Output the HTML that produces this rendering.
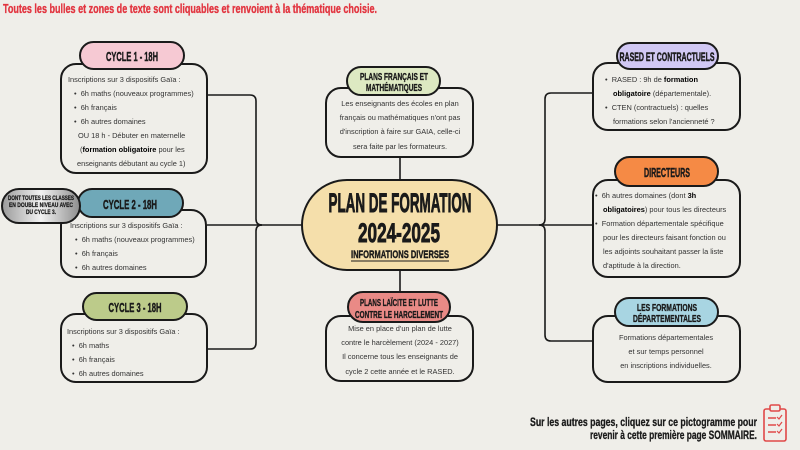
<!DOCTYPE html>
<html><head><meta charset="utf-8"><style>
html,body{margin:0;padding:0;background:#efeee9;}
svg{display:block;}
.h{font-family:"Liberation Sans Narrow","Liberation Sans",sans-serif;font-weight:bold;fill:#1a1a1a;stroke:#1a1a1a;stroke-width:0.45;}
.b{font-family:"Liberation Sans",sans-serif;font-size:7.4px;fill:#333;}
.bb{font-weight:bold;fill:#000;}
</style></head><body>
<svg width="800" height="450" viewBox="0 0 800 450" xmlns="http://www.w3.org/2000/svg">
<rect width="800" height="450" fill="#efeee9"/>
<text x="3" y="13" class="h" font-size="13" style="fill:#e2343f;stroke:#e2343f;stroke-width:0.35" textLength="374" lengthAdjust="spacingAndGlyphs">Toutes les bulles et zones de texte sont cliquables et renvoient à la thématique choisie.</text>

<g fill="none" stroke="#1a1a1a" stroke-width="1.6">
<path d="M207 95 H250 Q256 95 256 101 V219 Q256 225 262 225 H303"/>
<path d="M207 225 H262"/>
<path d="M207 349 H250 Q256 349 256 343 V231 Q256 225 262 225"/>
<path d="M593 93 H551 Q545 93 545 99 V219 Q545 225 539 225 H497"/>
<path d="M593 225 H539"/>
<path d="M593 341 H551 Q545 341 545 335 V231 Q545 225 539 225"/>
<path d="M400 157 V180"/>
<path d="M400 270 V292"/>
</g>

<g stroke="#1a1a1a" stroke-width="2" fill="#efeee9">
<rect x="61" y="64" width="146" height="109" rx="15"/>
<rect x="61" y="210" width="145" height="67" rx="15"/>
<rect x="61" y="314" width="146" height="68" rx="15"/>
<rect x="326" y="88" width="147" height="69" rx="15"/>
<rect x="326" y="316" width="147" height="65" rx="15"/>
<rect x="593" y="63" width="147" height="67" rx="15"/>
<rect x="593" y="180" width="147" height="97" rx="15"/>
<rect x="593" y="316" width="147" height="66" rx="15"/>
<rect x="302" y="180" width="195" height="90" rx="45" fill="#f5dfab"/>
<rect x="80" y="42" width="104" height="27" rx="13.5" fill="#f6c9d3"/>
<rect x="78" y="189" width="105" height="28" rx="14" fill="#6fa8b8"/>
<rect x="83" y="293" width="104" height="27" rx="13.5" fill="#bccb8a"/>
<rect x="347" y="67" width="93" height="28" rx="14" fill="#dde9c2"/>
<rect x="348" y="292" width="102" height="30" rx="15" fill="#e98a86"/>
<rect x="617" y="43" width="101" height="26" rx="13" fill="#d1c8f4"/>
<rect x="615" y="157" width="103" height="29" rx="14.5" fill="#f58a45"/>
<rect x="615" y="298" width="103" height="28" rx="14" fill="#a8d5e2"/>
</g>
<defs><linearGradient id="g" x1="0" x2="1"><stop offset="0" stop-color="#9a9a9a"/><stop offset=".5" stop-color="#f2f2f2"/><stop offset="1" stop-color="#8d8d8d"/></linearGradient></defs>
<rect x="2" y="189" width="78" height="34" rx="17" fill="url(#g)" stroke="#1a1a1a" stroke-width="2"/>

<text x="132" y="61" class="h" font-size="13" text-anchor="middle" textLength="52" lengthAdjust="spacingAndGlyphs">CYCLE 1 - 18H</text>
<text x="130" y="209" class="h" font-size="13" text-anchor="middle" textLength="54" lengthAdjust="spacingAndGlyphs">CYCLE 2 - 18H</text>
<text x="135" y="312" class="h" font-size="13" text-anchor="middle" textLength="53" lengthAdjust="spacingAndGlyphs">CYCLE 3 - 18H</text>
<text x="41" y="200" class="h" font-size="6.5" style="stroke-width:0.25" text-anchor="middle" textLength="66" lengthAdjust="spacingAndGlyphs">DONT TOUTES LES CLASSES</text>
<text x="41" y="207" class="h" font-size="6.5" style="stroke-width:0.25" text-anchor="middle" textLength="64" lengthAdjust="spacingAndGlyphs">EN DOUBLE NIVEAU AVEC</text>
<text x="41" y="214" class="h" font-size="6.5" style="stroke-width:0.25" text-anchor="middle" textLength="30" lengthAdjust="spacingAndGlyphs">DU CYCLE 3.</text>
<text x="394" y="80" class="h" font-size="10" style="stroke-width:0.35" text-anchor="middle" textLength="68" lengthAdjust="spacingAndGlyphs">PLANS FRANÇAIS ET</text>
<text x="394" y="91" class="h" font-size="10" style="stroke-width:0.35" text-anchor="middle" textLength="56" lengthAdjust="spacingAndGlyphs">MATHÉMATIQUES</text>
<text x="399" y="306" class="h" font-size="10.5" style="stroke-width:0.35" text-anchor="middle" textLength="78" lengthAdjust="spacingAndGlyphs">PLANS LAÏCITE ET LUTTE</text>
<text x="399" y="318" class="h" font-size="10.5" style="stroke-width:0.35" text-anchor="middle" textLength="88" lengthAdjust="spacingAndGlyphs">CONTRE LE HARCELEMENT</text>
<text x="667" y="61" class="h" font-size="12" text-anchor="middle" textLength="95" lengthAdjust="spacingAndGlyphs">RASED ET CONTRACTUELS</text>
<text x="667" y="177" class="h" font-size="13" text-anchor="middle" textLength="46" lengthAdjust="spacingAndGlyphs">DIRECTEURS</text>
<text x="667" y="311" class="h" font-size="10" style="stroke-width:0.35" text-anchor="middle" textLength="60" lengthAdjust="spacingAndGlyphs">LES FORMATIONS</text>
<text x="667" y="322" class="h" font-size="10" style="stroke-width:0.35" text-anchor="middle" textLength="68" lengthAdjust="spacingAndGlyphs">DÉPARTEMENTALES</text>

<text x="400" y="212" class="h" font-size="27" style="stroke-width:0.9" text-anchor="middle" textLength="143" lengthAdjust="spacingAndGlyphs">PLAN DE FORMATION</text>
<text x="399" y="242" class="h" font-size="27" style="stroke-width:0.9" text-anchor="middle" textLength="82" lengthAdjust="spacingAndGlyphs">2024-2025</text>
<text x="400" y="258" class="h" font-size="11" style="stroke-width:0.4" text-anchor="middle" textLength="98" lengthAdjust="spacingAndGlyphs">INFORMATIONS DIVERSES</text>
<line x1="351" y1="261" x2="449" y2="261" stroke="#1a1a1a" stroke-width="1"/>

<g class="b">
<text x="68" y="82">Inscriptions sur 3 dispositifs Gaïa :</text>
<text x="74" y="96">•&#160; 6h maths (nouveaux programmes)</text>
<text x="74" y="110">•&#160; 6h français</text>
<text x="74" y="124">•&#160; 6h autres domaines</text>
<text x="78" y="138">OU 18 h - Débuter en maternelle</text>
<text x="80" y="152">(<tspan class="bb">formation obligatoire</tspan> pour les</text>
<text x="77" y="166">enseignants débutant au cycle 1)</text>

<text x="70" y="228">Inscriptions sur 3 dispositifs Gaïa :</text>
<text x="75" y="242">•&#160; 6h maths (nouveaux programmes)</text>
<text x="75" y="256">•&#160; 6h français</text>
<text x="75" y="270">•&#160; 6h autres domaines</text>

<text x="67" y="334">Inscriptions sur 3 dispositifs Gaïa :</text>
<text x="72" y="348">•&#160; 6h maths</text>
<text x="72" y="362">•&#160; 6h français</text>
<text x="72" y="376">•&#160; 6h autres domaines</text>

<g text-anchor="middle">
<text x="400" y="106">Les enseignants des écoles en plan</text>
<text x="400" y="120">français ou mathématiques n'ont pas</text>
<text x="400" y="134">d'inscription à faire sur GAIA, celle-ci</text>
<text x="400" y="149">sera faite par les formateurs.</text>
<text x="400" y="331">Mise en place d'un plan de lutte</text>
<text x="400" y="345">contre le harcèlement (2024 - 2027)</text>
<text x="400" y="359">Il concerne tous les enseignants de</text>
<text x="400" y="374">cycle 2 cette année et le RASED.</text>
<text x="666" y="340">Formations départementales</text>
<text x="666" y="354">et sur temps personnel</text>
<text x="666" y="368">en inscriptions individuelles.</text>
</g>

<text x="605" y="82">•&#160; RASED : 9h de <tspan class="bb">formation</tspan></text>
<text x="613" y="96"><tspan class="bb">obligatoire</tspan> (départementale).</text>
<text x="605" y="110">•&#160; CTEN (contractuels) : quelles</text>
<text x="613" y="124">formations selon l'ancienneté ?</text>

<text x="595" y="198">•&#160; 6h autres domaines (dont <tspan class="bb">3h</tspan></text>
<text x="603" y="212"><tspan class="bb">obligatoires</tspan>) pour tous les directeurs</text>
<text x="595" y="226">•&#160; Formation départementale spécifique</text>
<text x="603" y="240">pour les directeurs faisant fonction ou</text>
<text x="603" y="254">les adjoints souhaitant passer la liste</text>
<text x="603" y="268">d'aptitude à la direction.</text>
</g>

<text x="757" y="426" class="h" font-size="12" style="stroke-width:0.3" text-anchor="end" textLength="227" lengthAdjust="spacingAndGlyphs">Sur les autres pages, cliquez sur ce pictogramme pour</text>
<text x="757" y="439" class="h" font-size="12" style="stroke-width:0.3" text-anchor="end" textLength="167" lengthAdjust="spacingAndGlyphs">revenir à cette première page SOMMAIRE.</text>

<g fill="none" stroke="#e04848" stroke-width="1.6">
<rect x="764" y="409" width="22" height="32" rx="2"/>
<rect x="770" y="405" width="10" height="6" rx="1.5" fill="#efeee9"/>
<path d="M768 418h8M768 425h8M768 432h8"/>
<path d="M777 417l2 2 3-4M777 424l2 2 3-4M777 431l2 2 3-4" stroke-width="1.2"/>
</g>
</svg>
</body></html>
